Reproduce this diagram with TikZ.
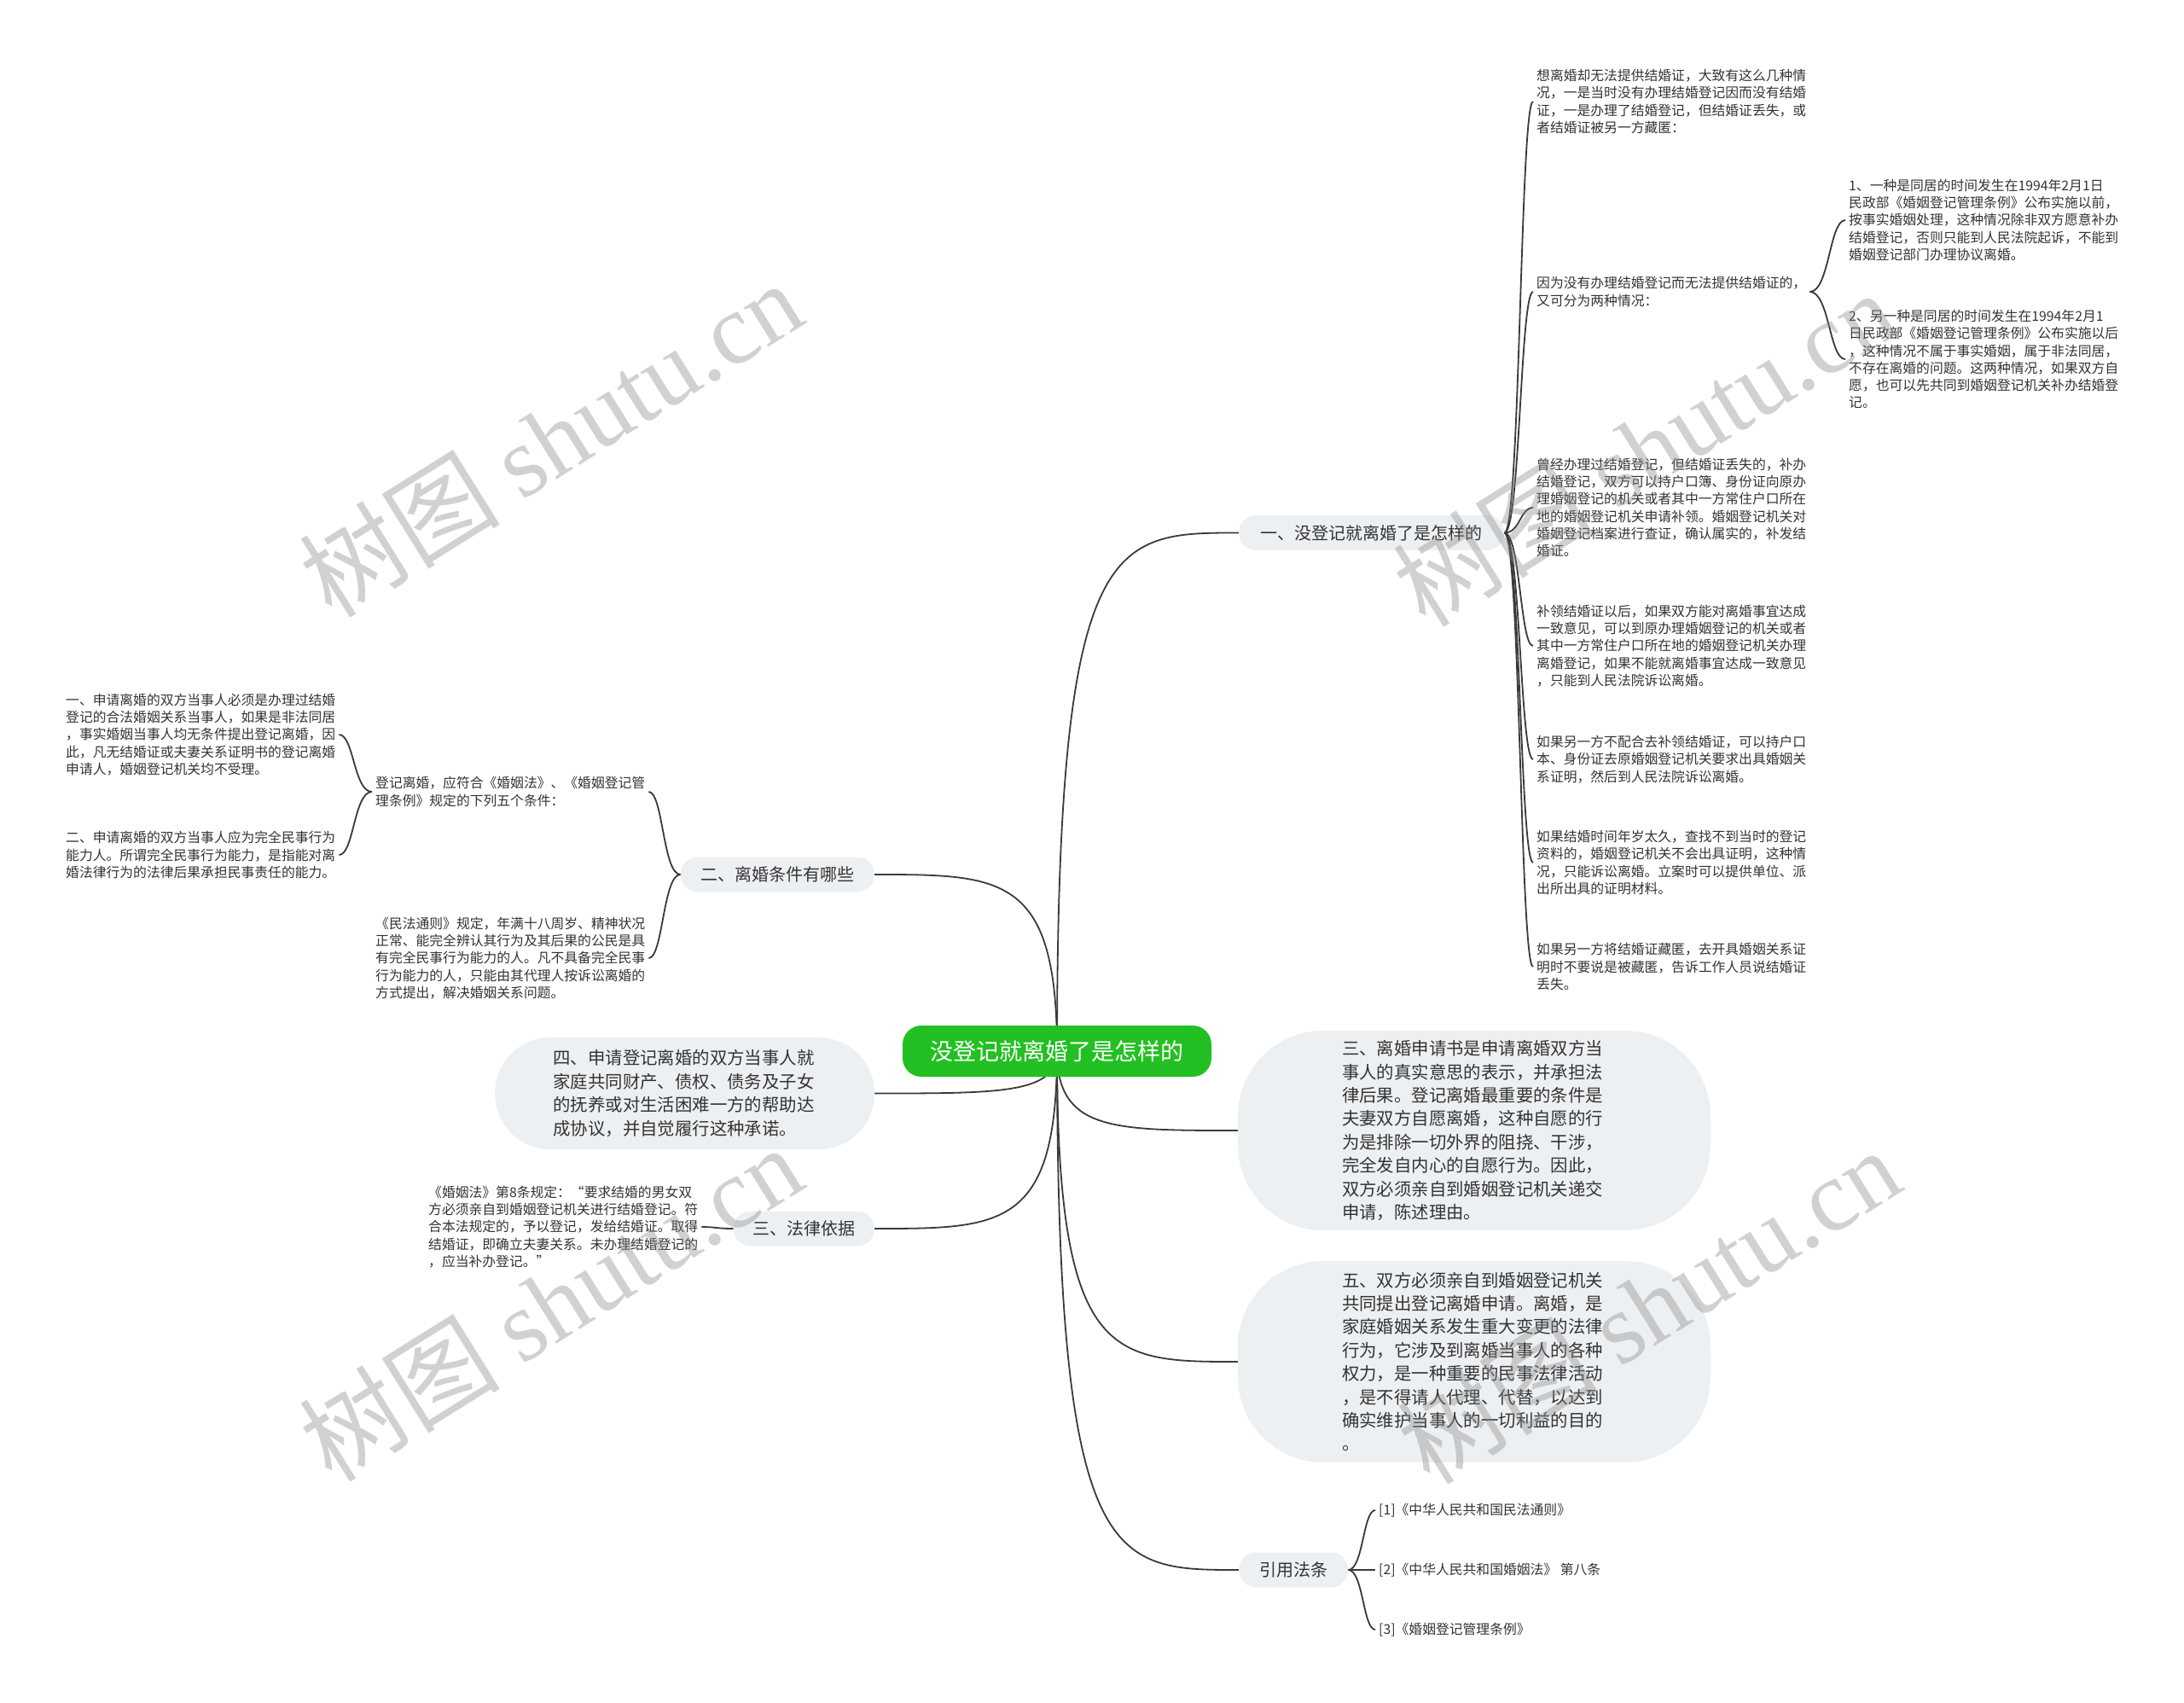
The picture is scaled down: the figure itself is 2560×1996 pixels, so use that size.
\documentclass[tikz,border=0pt]{standalone}
\usepackage{fontspec}
\setmainfont{Noto Sans CJK SC}
\newfontfamily\wmserif{Liberation Serif}
\usetikzlibrary{calc}
\definecolor{rootgreen}{HTML}{22C022}
\definecolor{pillgray}{HTML}{EDF0F3}
\definecolor{linkgray}{HTML}{3A3A3A}
\definecolor{txt}{HTML}{333333}
\pgfdeclarelayer{back}
\pgfdeclarelayer{bg}
\pgfsetlayers{back,bg,main}
\begin{document}
\begin{tikzpicture}[x=1pt,y=-1pt,
  rootbox/.style={fill=rootgreen, text=white, rounded corners=22pt, minimum width=362pt, minimum height=60pt, font=\fontsize{27}{32}\selectfont, inner sep=0pt},
  pill/.style={fill=pillgray, text=txt, rounded corners=20pt, minimum height=41pt, inner xsep=22pt, inner ysep=0pt, font=\fontsize{20}{24}\selectfont},
  bigbox/.style={fill=pillgray, text=txt, align=left, font=\fontsize{20.4}{27.4}\selectfont, inner sep=0pt},
  leaf/.style={text=txt, align=left, inner sep=4pt, font=\fontsize{15.8}{20.3}\selectfont},
  link/.style={draw=linkgray, line width=1.8pt},
  mainlink/.style={link, to path={.. controls (\tikztostart |- \tikztotarget) and ($(\tikztostart |- \tikztotarget)!0.3!(\tikztotarget)$) .. (\tikztotarget)}},
  bracelink/.style={link, to path={.. controls ($(\tikztostart)!0.55!(\tikztostart -| \tikztotarget)$) and ($(\tikztotarget)!0.45!(\tikztotarget -| \tikztostart)$) .. (\tikztotarget)}},
  wm/.style={text=black!47, opacity=0.38, rotate=32, font=\fontsize{118}{122}\selectfont, inner sep=0pt}
]
\begin{pgfonlayer}{back}
\fill[white] (0,0) rectangle (2560,1996);
\end{pgfonlayer}
\useasboundingbox (0,0) rectangle (2560,1996);

% root
\node[rootbox] (root) at (1239,1232) {没登记就离婚了是怎样的};

% level 1
\node[pill, anchor=west, minimum width=311pt] (yi) at (1452,624.5) {一、没登记就离婚了是怎样的};
\node[pill, anchor=east, minimum width=227pt] (er) at (1025,1025) {二、离婚条件有哪些};
\node[pill, anchor=east, minimum width=165pt] (fl) at (1025,1440) {三、法律依据};
\node[pill, anchor=west, minimum width=128pt] (yy) at (1452,1840) {引用法条};

\node[bigbox, minimum width=445pt, minimum height=131pt, rounded corners=65pt, text width=308pt] (si) at (802.5,1281.5)
{四、申请登记离婚的双方当事人就\\家庭共同财产、债权、债务及子女\\的抚养或对生活困难一方的帮助达\\成协议，并自觉履行这种承诺。};

\node[bigbox, minimum width=554pt, minimum height=234pt, rounded corners=100pt, text width=310pt] (san) at (1728,1325)
{三、离婚申请书是申请离婚双方当\\事人的真实意思的表示，并承担法\\律后果。登记离婚最重要的条件是\\夫妻双方自愿离婚，这种自愿的行\\为是排除一切外界的阻挠、干涉，\\完全发自内心的自愿行为。因此，\\双方必须亲自到婚姻登记机关递交\\申请，陈述理由。};

\node[bigbox, minimum width=554pt, minimum height=236pt, rounded corners=100pt, text width=310pt] (wu) at (1728,1596)
{五、双方必须亲自到婚姻登记机关\\共同提出登记离婚申请。离婚，是\\家庭婚姻关系发生重大变更的法律\\行为，它涉及到离婚当事人的各种\\权力，是一种重要的民事法律活动\\，是不得请人代理、代替，以达到\\确实维护当事人的一切利益的目的\\。};

% level 2 under yi
\node[leaf, anchor=west] (a) at (1797,119) {想离婚却无法提供结婚证，大致有这么几种情\\况，一是当时没有办理结婚登记因而没有结婚\\证，一是办理了结婚登记，但结婚证丢失，或\\者结婚证被另一方藏匿：};
\node[leaf, anchor=west] (b) at (1797,342) {因为没有办理结婚登记而无法提供结婚证的，\\又可分为两种情况：};
\node[leaf, anchor=west] (b1) at (2163,258) {1、一种是同居的时间发生在1994年2月1日\\民政部《婚姻登记管理条例》公布实施以前，\\按事实婚姻处理，这种情况除非双方愿意补办\\结婚登记，否则只能到人民法院起诉，不能到\\婚姻登记部门办理协议离婚。};
\node[leaf, anchor=west] (b2) at (2163,421) {2、另一种是同居的时间发生在1994年2月1\\日民政部《婚姻登记管理条例》公布实施以后\\，这种情况不属于事实婚姻，属于非法同居，\\不存在离婚的问题。这两种情况，如果双方自\\愿，也可以先共同到婚姻登记机关补办结婚登\\记。};
\node[leaf, anchor=west] (c) at (1797,595) {曾经办理过结婚登记，但结婚证丢失的，补办\\结婚登记，双方可以持户口簿、身份证向原办\\理婚姻登记的机关或者其中一方常住户口所在\\地的婚姻登记机关申请补领。婚姻登记机关对\\婚姻登记档案进行查证，确认属实的，补发结\\婚证。};
\node[leaf, anchor=west] (d) at (1797,757) {补领结婚证以后，如果双方能对离婚事宜达成\\一致意见，可以到原办理婚姻登记的机关或者\\其中一方常住户口所在地的婚姻登记机关办理\\离婚登记，如果不能就离婚事宜达成一致意见\\，只能到人民法院诉讼离婚。};
\node[leaf, anchor=west] (e) at (1797,890) {如果另一方不配合去补领结婚证，可以持户口\\本、身份证去原婚姻登记机关要求出具婚姻关\\系证明，然后到人民法院诉讼离婚。};
\node[leaf, anchor=west] (f) at (1797,1011) {如果结婚时间年岁太久，查找不到当时的登记\\资料的，婚姻登记机关不会出具证明，这种情\\况，只能诉讼离婚。立案时可以提供单位、派\\出所出具的证明材料。};
\node[leaf, anchor=west] (g) at (1797,1133) {如果另一方将结婚证藏匿，去开具婚姻关系证\\明时不要说是被藏匿，告诉工作人员说结婚证\\丢失。};

% level 2 under er
\node[leaf, anchor=west] (h) at (436,928) {登记离婚，应符合《婚姻法》、《婚姻登记管\\理条例》规定的下列五个条件：};
\node[leaf, anchor=west] (i) at (436,1123) {《民法通则》规定，年满十八周岁、精神状况\\正常、能完全辨认其行为及其后果的公民是具\\有完全民事行为能力的人。凡不具备完全民事\\行为能力的人，只能由其代理人按诉讼离婚的\\方式提出，解决婚姻关系问题。};
\node[leaf, anchor=west] (j) at (73,861) {一、申请离婚的双方当事人必须是办理过结婚\\登记的合法婚姻关系当事人，如果是非法同居\\，事实婚姻当事人均无条件提出登记离婚，因\\此，凡无结婚证或夫妻关系证明书的登记离婚\\申请人，婚姻登记机关均不受理。};
\node[leaf, anchor=west] (k) at (73,1002) {二、申请离婚的双方当事人应为完全民事行为\\能力人。所谓完全民事行为能力，是指能对离\\婚法律行为的法律后果承担民事责任的能力。};

% level 2 under fl
\node[leaf, anchor=west] (l) at (498,1438) {《婚姻法》第8条规定：“要求结婚的男女双\\方必须亲自到婚姻登记机关进行结婚登记。符\\合本法规定的，予以登记，发给结婚证。取得\\结婚证，即确立夫妻关系。未办理结婚登记的\\，应当补办登记。”};

% citations
\node[leaf, anchor=west] (c1) at (1612,1770) {[1]《中华人民共和国民法通则》};
\node[leaf, anchor=west] (c2) at (1612,1840) {[2]《中华人民共和国婚姻法》 第八条};
\node[leaf, anchor=west] (c3) at (1612,1910) {[3]《婚姻登记管理条例》};

% connectors
\begin{pgfonlayer}{bg}
\draw[mainlink] (root.center) to (yi.west);
\draw[mainlink] (root.center) to (san.west);
\draw[mainlink] (root.center) to (wu.west);
\draw[mainlink] (root.center) to (yy.west);
\draw[mainlink] (root.center) to (er.east);
\draw[mainlink] (root.center) to (si.east);
\draw[mainlink] (root.center) to (fl.east);
\foreach \n in {a,b,c,d,e,f,g} {\draw[bracelink] (yi.east) to (\n.west);}
\foreach \n in {b1,b2} {\draw[bracelink] (b.east) to (\n.west);}
\foreach \n in {h,i} {\draw[bracelink] (er.west) to (\n.east);}
\foreach \n in {j,k} {\draw[bracelink] (h.west) to (\n.east);}
\draw[bracelink] (fl.west) to (l.east);
\foreach \n in {c1,c2,c3} {\draw[bracelink] (yy.east) to (\n.west);}
\end{pgfonlayer}

% watermarks
\node[wm] (w1) at (645,514) {树图 {\wmserif shutu.cn}};
\node[wm] (w2) at (645,1527) {树图 {\wmserif shutu.cn}};
\node[wm] (w3) at (1927,525) {树图 {\wmserif shutu.cn}};
\node[wm] (w4) at (1932,1530) {树图 {\wmserif shutu.cn}};
\end{tikzpicture}
\end{document}
